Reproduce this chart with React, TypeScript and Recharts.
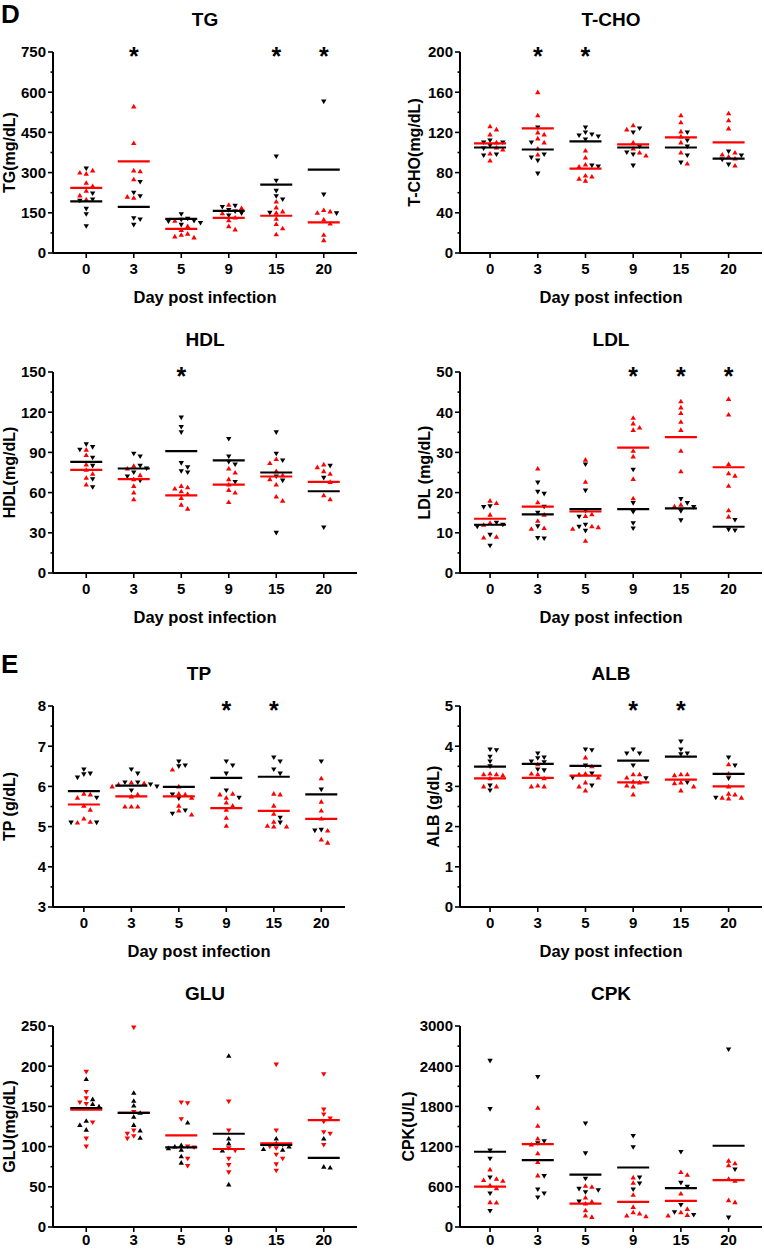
import React from "react"
import { ScatterChart, Scatter, XAxis, YAxis } from "recharts"

const days = ["0", "3", "5", "9", "15", "20"]

// TG (mg/dL)
const tgRed = [
  [308, 300, 296, 262, 250, 232, 215, 200],
  [547, 410, 308, 305, 275, 210, 206],
  [120, 100, 86, 72, 68, 62, 58],
  [180, 168, 148, 132, 122, 100, 88],
  [192, 170, 155, 150, 128, 108, 92, 70],
  [160, 155, 150, 125, 110, 68, 48],
]
const tgBlack = [
  [315, 222, 200, 195, 165, 145, 100],
  [265, 225, 212, 130, 125, 105],
  [145, 128, 124, 120, 118, 112, 105],
  [176, 172, 160, 155, 148, 140],
  [360, 270, 232, 212, 200, 150],
  [565, 218, 148],
]
const tgRedMean = [243, 342, 90, 131, 139, 114]
const tgBlackMean = [193, 172, 127, 157, 255, 311]
const tgStars = [1, 4, 5]

// T-CHO (mg/dL)
const tchoRed = [
  [126, 123, 118, 110, 105, 103, 99, 92],
  [160, 137, 120, 118, 114, 110, 104, 98],
  [102, 95, 88, 86, 77, 76, 74, 72],
  [127, 123, 110, 104, 100, 97],
  [137, 130, 121, 116, 110, 100, 89],
  [139, 132, 124, 100, 98, 96, 94, 87],
]
const tchoBlack = [
  [112, 110, 110, 107, 104, 98, 97],
  [125, 110, 98, 95, 92, 79],
  [125, 120, 118, 117, 116, 113, 87, 86],
  [124, 120, 106, 100, 98, 87],
  [120, 112, 106, 97, 90],
  [101, 97, 93, 88],
]
const tchoRedMean = [109, 124, 84, 108, 115, 110]
const tchoBlackMean = [105, 103, 111, 105, 105, 94]
const tchoStars = [1, 2]

// HDL (mg/dL)
const hdlRed = [
  [92, 88, 81, 77, 74, 71, 66],
  [80, 78, 73, 70, 65, 60, 55],
  [65, 64, 63, 61, 59, 56, 51, 48],
  [78, 75, 70, 66, 62, 60, 53],
  [85, 82, 76, 73, 70, 66, 57, 54],
  [81, 79, 76, 74, 68, 58, 55],
]
const hdlBlack = [
  [96, 94, 92, 86, 80, 70, 64],
  [89, 87, 80, 78, 75, 72, 69],
  [116, 109, 105, 82, 79, 76, 75],
  [100, 87, 83, 81, 68],
  [105, 89, 84, 72, 69, 30],
  [80, 71, 34],
]
const hdlRedMean = [77, 70, 58, 66, 72, 68]
const hdlBlackMean = [83, 78, 91, 84, 75, 61]
const hdlStars = [2]

// LDL (mg/dL)
const ldlRed = [
  [18, 17.4, 14.5, 12.5, 12, 9, 8.8],
  [26, 17.6, 14.5, 13, 11.2, 11],
  [28.2, 22.7, 14.6, 14.2, 11.6, 11.4, 11, 8],
  [38.6, 37.2, 36.2, 35.6, 30.4, 29, 23.4, 18.6],
  [42.7, 41.2, 39.8, 37.6, 35.6, 30.4, 25.3, 17, 16.6],
  [43.3, 39.4, 27.1, 24.8, 24.2, 21.7, 15.6, 14],
]
const ldlBlack = [
  [16.6, 16.4, 12.5, 12, 11.5, 9.5, 6.8],
  [22.5, 20.2, 19.7, 16.5, 15, 11.6, 8.7, 8.6],
  [27, 20.5, 15.5, 14, 12, 11.5, 10.5],
  [25.7, 17.4, 15.2, 12.4, 11.1],
  [18.4, 17.4, 16.4, 15.4, 13.1],
  [13.2, 10.8, 10.6],
]
const ldlRedMean = [13.5, 16.5, 15.3, 31.2, 33.8, 26.3]
const ldlBlackMean = [12, 14.6, 15.9, 15.9, 16.1, 11.5]
const ldlStars = [3, 4, 5]

// TP (g/dL)
const tpRed = [
  [5.82, 5.8, 5.72, 5.52, 5.42, 5.2, 5.12, 5.1],
  [6.1, 6.08, 6.05, 6.0, 5.8, 5.75, 5.5, 5.5, 5.5],
  [6.42, 6.0, 5.82, 5.8, 5.72, 5.52, 5.4, 5.3],
  [5.82, 5.8, 5.72, 5.6, 5.52, 5.42, 5.22, 5.02],
  [5.82, 5.8, 5.52, 5.32, 5.12, 5.02, 5.0, 5.0],
  [6.2, 5.62, 5.4, 5.2, 4.9, 4.68, 4.6],
]
const tpBlack = [
  [6.42, 6.32, 6.3, 6.22, 5.72, 5.1, 5.1],
  [6.42, 6.32, 6.1, 6.1, 6.05, 6.0, 5.9],
  [6.62, 6.52, 6.5, 5.8, 5.7, 5.4, 5.32],
  [6.62, 6.52, 6.32, 5.9, 5.72],
  [6.72, 6.62, 6.42, 6.32, 5.22, 5.1],
  [6.62, 5.92, 4.92, 4.9],
]
const tpRedMean = [5.55, 5.75, 5.75, 5.46, 5.39, 5.19]
const tpBlackMean = [5.88, 6.02, 5.99, 6.21, 6.24, 5.8]
const tpStars = [3, 4]

// ALB (g/dL)
const albRed = [
  [3.32, 3.3, 3.3, 3.28, 3.2, 3.0, 3.0],
  [3.55, 3.32, 3.3, 3.2, 3.02, 3.0, 3.0],
  [3.72, 3.5, 3.32, 3.3, 3.22, 3.1, 3.0, 2.9],
  [3.3, 3.3, 3.22, 3.12, 3.1, 3.02, 3.0, 2.8],
  [3.3, 3.3, 3.28, 3.1, 3.08, 3.0, 2.9],
  [3.55, 3.32, 3.0, 2.82, 2.8, 2.72, 2.72, 2.7],
]
const albBlack = [
  [3.92, 3.9, 3.74, 3.62, 3.5, 3.02, 2.9],
  [3.82, 3.72, 3.7, 3.62, 3.6, 3.42, 3.4],
  [3.92, 3.9, 3.52, 3.32, 3.22, 3.02],
  [3.92, 3.82, 3.82, 3.52, 3.2],
  [4.12, 3.92, 3.82, 3.8, 3.1],
  [3.72, 3.52, 3.2, 2.72],
]
const albRedMean = [3.2, 3.21, 3.27, 3.1, 3.17, 3.0]
const albBlackMean = [3.49, 3.56, 3.51, 3.64, 3.74, 3.31]
const albStars = [3, 4]

// GLU (mg/dL) - here red points point down, black up
const gluRed = [
  [193, 168, 160, 155, 153, 130, 110, 100],
  [248, 143, 120, 116, 113, 110],
  [155, 154, 134, 100, 99, 85, 76],
  [156, 120, 98, 95, 85, 77, 68],
  [202, 120, 102, 100, 98, 90, 85, 78, 70],
  [190, 146, 140, 135, 131, 118, 116, 102],
]
const gluBlack = [
  [184, 159, 153, 150, 132, 127, 121],
  [167, 157, 151, 142, 137, 127, 120, 111],
  [130, 102, 100, 98, 96, 88, 80],
  [213, 110, 104, 95, 53],
  [110, 104, 100, 97, 96],
  [110, 75, 74],
]
const gluRedMean = [146, 142, 114, 97, 104, 133]
const gluBlackMean = [148, 142, 99, 116, 102, 86]
const gluStars: number[] = []

// CPK (U/L)
const cpkRed = [
  [860, 720, 700, 690, 620, 580, 370, 365],
  [1780, 1510, 1320, 1230, 1100, 970, 770],
  [615, 600, 440, 380, 350, 250, 170, 150],
  [740, 660, 480, 300, 220, 200, 170, 160],
  [820, 780, 500, 270, 220, 180, 170],
  [990, 950, 920, 720, 690, 400, 370],
]
const cpkBlack = [
  [2480, 1760, 1140, 1020, 740, 500, 240],
  [2240, 1280, 1250, 760, 560, 500, 440],
  [1545, 1100, 720, 570, 550, 520, 380],
  [1360, 1190, 740, 650, 560],
  [1120, 660, 600, 330, 220, 180],
  [2650, 860, 140],
]
const cpkRedMean = [604, 1237, 349, 374, 389, 699]
const cpkBlackMean = [1123, 998, 783, 888, 580, 1213]
const cpkStars: number[] = []

const RED = "#ff0000"
const BLACK = "#000000"
const FONT = "'Liberation Sans', Arial, sans-serif"
const PLOT_H = 201
const TOP = 52
const STEP = 6.4
const MARK_H = 4.6

const COLS = [
  { left: 0, axisW: 53, right: 25, xDom: [-0.7, 5.7] },
  { left: 382, axisW: 78, right: 2, xDom: [-0.63, 5.7] },
]
const ROWS = [
  { top: 0, h: 320, xlabel: true, tickDy: 21 },
  { top: 320, h: 320, xlabel: true, tickDy: 21 },
  { top: 654, h: 320, xlabel: true, tickDy: 21 },
  { top: 974, h: 275, xlabel: false, tickDy: 18 },
]

const panels: any[] = [
  { title: "TG", ylabel: "TG(mg/dL)", domain: [0, 750], step: 150, red: tgRed, black: tgBlack, redMean: tgRedMean, blackMean: tgBlackMean, stars: tgStars, redUp: true, col: 0, row: 0, labelX: 15 },
  { title: "T-CHO", ylabel: "T-CHO(mg/dL)", domain: [0, 200], step: 40, red: tchoRed, black: tchoBlack, redMean: tchoRedMean, blackMean: tchoBlackMean, stars: tchoStars, redUp: true, col: 1, row: 0, labelX: 38 },
  { title: "HDL", ylabel: "HDL(mg/dL)", domain: [0, 150], step: 30, red: hdlRed, black: hdlBlack, redMean: hdlRedMean, blackMean: hdlBlackMean, stars: hdlStars, redUp: true, col: 0, row: 1, labelX: 15 },
  { title: "LDL", ylabel: "LDL (mg/dL)", domain: [0, 50], step: 10, red: ldlRed, black: ldlBlack, redMean: ldlRedMean, blackMean: ldlBlackMean, stars: ldlStars, redUp: true, col: 1, row: 1, labelX: 48 },
  { title: "TP", ylabel: "TP (g/dL)", domain: [3, 8], step: 1, red: tpRed, black: tpBlack, redMean: tpRedMean, blackMean: tpBlackMean, stars: tpStars, redUp: true, col: 0, row: 2, labelX: 15, right: 37, xDom: [-0.65, 5.5] },
  { title: "ALB", ylabel: "ALB (g/dL)", domain: [0, 5], step: 1, red: albRed, black: albBlack, redMean: albRedMean, blackMean: albBlackMean, stars: albStars, redUp: true, col: 1, row: 2, labelX: 57 },
  { title: "GLU", ylabel: "GLU(mg/dL)", domain: [0, 250], step: 50, red: gluRed, black: gluBlack, redMean: gluRedMean, blackMean: gluBlackMean, stars: gluStars, redUp: false, col: 0, row: 3, labelX: 15 },
  { title: "CPK", ylabel: "CPK(U/L)", domain: [0, 3000], step: 600, red: cpkRed, black: cpkBlack, redMean: cpkRedMean, blackMean: cpkBlackMean, stars: cpkStars, redUp: true, col: 1, row: 3, labelX: 32 },
]

// simple beeswarm: spread points of one day sideways so they don't overlap
function layout(red: number[][], black: number[][], dom: number[], pxU: number) {
  const r: any[] = []
  const b: any[] = []
  days.forEach((_, i) => {
    const pts = [
      ...red[i].map((v) => ({ v, c: "r" })),
      ...black[i].map((v) => ({ v, c: "b" })),
    ].sort((a, z) => z.v - a.v)
    const placed: { off: number; py: number }[] = []
    pts.forEach((p) => {
      const py = ((p.v - dom[0]) / (dom[1] - dom[0])) * PLOT_H
      let off = 0
      for (let k = 0; k < 40; k++) {
        const cand = (k % 2 ? 1 : -1) * Math.ceil(k / 2) * STEP
        if (placed.every((q) => Math.abs(q.off - cand) >= STEP * 0.95 || Math.abs(q.py - py) >= MARK_H)) {
          off = cand
          break
        }
      }
      placed.push({ off, py })
      const pt = { x: i + off / pxU, y: p.v }
      if (p.c === "r") r.push(pt)
      else b.push(pt)
    })
  })
  return [r, b]
}

const tri = (color: string, up: boolean) => (props: any) => {
  const { cx, cy } = props
  if (cx == null || cy == null) return <g />
  const d = up
    ? `M${cx},${cy - 2.6} L${cx + 2.7},${cy + 2} L${cx - 2.7},${cy + 2} Z`
    : `M${cx},${cy + 2.6} L${cx + 2.7},${cy - 2} L${cx - 2.7},${cy - 2} Z`
  return <path d={d} fill={color} />
}

const meanLine = (color: string) => (props: any) => {
  const { cx, cy } = props
  if (cx == null || cy == null) return <g />
  return <line x1={cx - 16} x2={cx + 16} y1={cy} y2={cy} stroke={color} strokeWidth={2.2} />
}

const star = (props: any) => {
  const { cx, cy } = props
  if (cx == null || cy == null) return <g />
  return (
    <text x={cx} y={cy + 13} textAnchor="middle" fontSize={25} fontWeight={700} fontFamily={FONT} fill="#000">
      *
    </text>
  )
}

function XTick(props: any) {
  const { x, y, payload, dy } = props
  return (
    <g>
      <line x1={x} x2={x} y1={y} y2={y + 5} stroke="#000" strokeWidth={1.6} />
      <text x={x} y={y + dy} textAnchor="middle" fontSize={15} fontWeight={700} fontFamily={FONT} fill="#000">
        {days[payload.value]}
      </text>
    </g>
  )
}

function YTick(props: any) {
  const { x, y, payload, dom, step } = props
  const k = (payload.value - dom[0]) / step
  const major = Math.abs(k - Math.round(k)) < 1e-6
  return (
    <g>
      <line x1={x - (major ? 5 : 2.5)} x2={x} y1={y} y2={y} stroke="#000" strokeWidth={1.6} />
      {major && (
        <text x={x - 7} y={y} dy="0.36em" textAnchor="end" fontSize={15} fontWeight={700} fontFamily={FONT} fill="#000">
          {payload.value}
        </text>
      )}
    </g>
  )
}

function Panel({ p }: { p: any }) {
  const col = COLS[p.col]
  const row = ROWS[p.row]
  const right = p.right ?? col.right
  const xDom = p.xDom ?? col.xDom
  const plotW = 382 - col.axisW - right
  const pxU = plotW / (xDom[1] - xDom[0])
  const [redPts, blackPts] = layout(p.red, p.black, p.domain, pxU)
  const ticks: number[] = []
  for (let v = p.domain[0]; v <= p.domain[1] + 1e-9; v += p.step / 2) ticks.push(+v.toFixed(4))
  const plotCx = col.axisW + plotW / 2
  const redMeans = p.redMean.map((m: number, i: number) => ({ x: i, y: m }))
  const blackMeans = p.blackMean.map((m: number, i: number) => ({ x: i, y: m }))
  const stars = p.stars.map((i: number) => ({ x: i, y: p.domain[1] }))
  const yLabel = () => (
    <text
      x={p.labelX}
      y={TOP + PLOT_H / 2}
      transform={`rotate(-90, ${p.labelX}, ${TOP + PLOT_H / 2})`}
      textAnchor="middle"
      fontSize={16}
      fontWeight={700}
      fontFamily={FONT}
      fill="#000"
    >
      {p.ylabel}
    </text>
  )
  const textStyle: any = { position: "absolute", left: 0, textAlign: "center", fontFamily: FONT, fontWeight: 700, color: "#000", whiteSpace: "nowrap" }
  return (
    <div style={{ position: "absolute", left: col.left, top: row.top, width: 382, height: row.h }}>
      <div style={{ ...textStyle, top: 10, width: plotCx * 2, fontSize: 19, lineHeight: "19px" }}>{p.title}</div>
      <ScatterChart width={382} height={row.h} margin={{ top: TOP, right, bottom: 0, left: 0 }}>
        <XAxis
          type="number"
          dataKey="x"
          domain={xDom}
          ticks={[0, 1, 2, 3, 4, 5]}
          interval={0}
          height={row.h - TOP - PLOT_H}
          axisLine={{ stroke: "#000", strokeWidth: 2 }}
          tickLine={false}
          tickSize={0}
          tickMargin={0}
          tick={<XTick dy={row.tickDy} />}
        />
        <YAxis
          type="number"
          dataKey="y"
          domain={p.domain}
          ticks={ticks}
          interval={0}
          width={col.axisW}
          axisLine={{ stroke: "#000", strokeWidth: 2 }}
          tickLine={false}
          tickSize={0}
          tickMargin={0}
          tick={<YTick dom={p.domain} step={p.step} />}
          label={yLabel}
        />
        <Scatter data={blackPts} isAnimationActive={false} shape={tri(BLACK, !p.redUp)} />
        <Scatter data={redPts} isAnimationActive={false} shape={tri(RED, p.redUp)} />
        <Scatter data={redMeans} isAnimationActive={false} shape={meanLine(RED)} />
        <Scatter data={blackMeans} isAnimationActive={false} shape={meanLine(BLACK)} />
        <Scatter data={stars} isAnimationActive={false} shape={star} />
      </ScatterChart>
      {row.xlabel && (
        <div style={{ ...textStyle, top: 289, width: plotCx * 2, fontSize: 16.5, lineHeight: "16.5px" }}>Day post infection</div>
      )}
    </div>
  )
}

export default function App() {
  return (
    <div style={{ position: "absolute", left: 0, top: 0, width: 764, height: 1249, background: "#fff", overflow: "hidden" }}>
      <div style={{ position: "absolute", left: 1, top: 0, fontFamily: FONT, fontWeight: 700, fontSize: 26, lineHeight: 1.15 }}>D</div>
      <div style={{ position: "absolute", left: 1, top: 650, fontFamily: FONT, fontWeight: 700, fontSize: 26, lineHeight: 1.15 }}>E</div>
      {panels.map((p) => (
        <Panel key={p.title} p={p} />
      ))}
    </div>
  )
}
